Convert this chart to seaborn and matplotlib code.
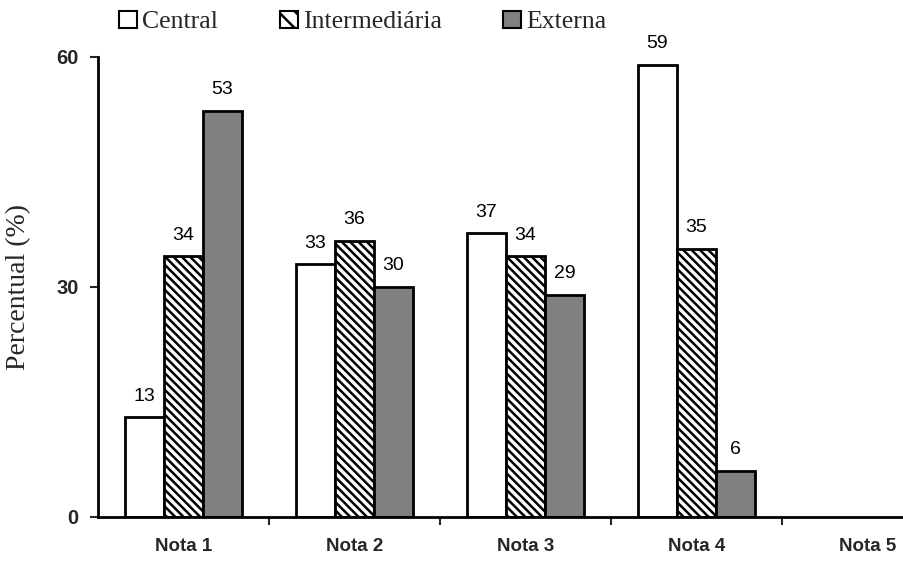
import matplotlib
matplotlib.use("Agg")
import matplotlib.pyplot as plt
from matplotlib.patches import Patch
from matplotlib.ticker import FixedLocator
import seaborn as sns
import pandas as pd

notas = ["Nota 1", "Nota 2", "Nota 3", "Nota 4", "Nota 5"]
zonas = ["Central", "Intermediária", "Externa"]
central = [13, 33, 37, 59]
intermediaria = [34, 36, 34, 35]
externa = [53, 30, 29, 6]
yticks = [0, 30, 60]

rows = []
for zona, vals in zip(zonas, [central, intermediaria, externa]):
    for nota, v in zip(notas, vals):
        rows.append({"Nota": nota, "Zona": zona, "Percentual": v})
df = pd.DataFrame(rows)

sns.set_style("ticks")
plt.rcParams["font.family"] = ["Liberation Sans", "DejaVu Sans"]
plt.rcParams["hatch.linewidth"] = 1.8

HATCH = "\\\\\\\\"

fig = plt.figure(figsize=(9.04, 5.69), dpi=100)
ax = fig.add_axes([98 / 904, 52 / 569, 1 - 98 / 904, 460 / 569])

colors = {"Central": "white", "Intermediária": "white", "Externa": "#808080"}
sns.barplot(data=df, x="Nota", y="Percentual", hue="Zona", order=notas,
            hue_order=zonas, palette=colors, saturation=1, edgecolor="black",
            linewidth=2, width=0.684, legend=False, ax=ax)

for bar in ax.containers[1]:
    bar.set_hatch(HATCH)

for c in ax.containers:
    ax.bar_label(c, padding=9, fontsize=14, color="black")

ax.set_xlim(-0.5, 806 / 171 - 0.5)
ax.set_ylim(0, 60)
ax.set_yticks(yticks)
ax.set_xticks(range(len(notas)))
ax.set_xticklabels(notas, fontsize=13.5, fontweight="bold")
ax.xaxis.set_minor_locator(FixedLocator([0.5, 1.5, 2.5, 3.5]))
ax.tick_params(axis="x", which="major", length=0, pad=15)
ax.tick_params(axis="x", which="minor", length=6, width=1.5, direction="out")
ax.tick_params(axis="y", length=6, width=1.5, pad=8, labelsize=14.5)
for lab in ax.get_yticklabels():
    lab.set_fontweight("bold")

sns.despine(ax=ax, top=True, right=True)
for side in ("left", "bottom"):
    ax.spines[side].set_linewidth(2)
    ax.spines[side].set_color("black")

ax.set_xlabel("")
ax.set_ylabel("Percentual (%)", family="Liberation Serif", fontsize=20, labelpad=18)

handles = [
    Patch(facecolor="white", edgecolor="black", linewidth=1.5),
    Patch(facecolor="white", edgecolor="black", linewidth=1.5, hatch="\\\\"),
    Patch(facecolor="#808080", edgecolor="black", linewidth=1.5),
]
fig.legend(handles, zonas, loc="center left", bbox_to_anchor=(119 / 904, 1 - 22 / 569),
           ncol=3, frameon=False, prop={"family": "Liberation Serif", "size": 18.5},
           handlelength=0.7, handleheight=0.7, handletextpad=0.2,
           columnspacing=2.4, borderaxespad=0, borderpad=0)

fig.savefig("out.png", dpi=100)
